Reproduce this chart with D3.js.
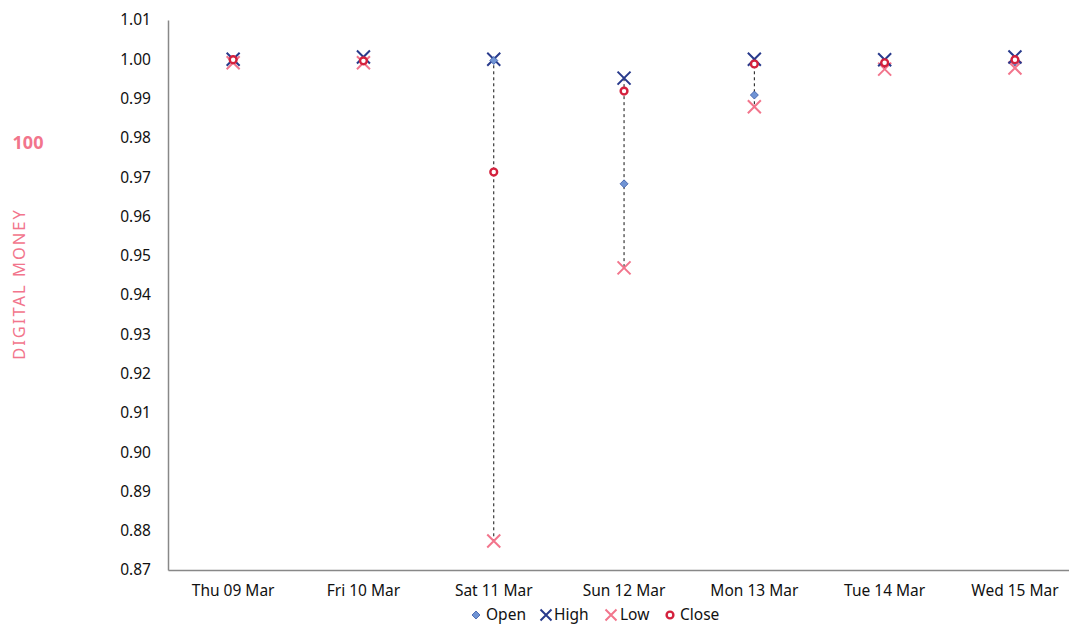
<!DOCTYPE html>
<html><head><meta charset="utf-8">
<script src="https://cdn.jsdelivr.net/npm/d3@7/dist/d3.min.js"></script>
<style>body{margin:0;background:#fff}svg{display:block}text{font-family:"Noto Sans",Lato,sans-serif}</style>
</head><body><svg id="c" width="1069" height="624"></svg>
<script>
const categories = ["Thu 09 Mar","Fri 10 Mar","Sat 11 Mar","Sun 12 Mar","Mon 13 Mar","Tue 14 Mar","Wed 15 Mar"];
const openVals  = [0.9999, 0.9997, 0.9997, 0.9683, 0.9909, 0.9990, 0.9994];
const highVals  = [1.0000, 1.0006, 1.0000, 0.9952, 1.0000, 0.9999, 1.0006];
const lowVals   = [0.9991, 0.9991, 0.8774, 0.9469, 0.9879, 0.9975, 0.9978];
const closeVals = [0.9999, 0.9996, 0.9713, 0.9919, 0.9988, 0.9991, 0.9999];
const yTicks = [1.01,1.00,0.99,0.98,0.97,0.96,0.95,0.94,0.93,0.92,0.91,0.90,0.89,0.88,0.87];

const svg = d3.select("#c");
const L = 168, T = 20, B = 570, step = 130.3;
const x = d3.scaleBand().domain(categories).range([L, L + step*categories.length]);
const y = d3.scaleLinear().domain([0.87, 1.01]).range([B, T]);
const cx = d => x(d) + x.bandwidth()/2;

const navy = "#283a8c", pink = "#f2758c", red = "#d4213d", lblue = "#7094d4";

// axes
const ya = svg.append("g").attr("transform",`translate(${L},0)`)
  .call(d3.axisLeft(y).tickValues(yTicks).tickFormat(d3.format(".2f")).tickSize(0).tickPadding(17));
ya.select(".domain").attr("stroke","#888").attr("stroke-width",1.5);
ya.selectAll("text").attr("font-size",15.5).attr("fill","#111");
const xa = svg.append("g").attr("transform",`translate(0,${B})`)
  .call(d3.axisBottom(x).tickSize(0).tickPadding(15));
xa.select(".domain").attr("stroke","#888").attr("stroke-width",1.5);
xa.selectAll("text").attr("font-size",15.5).attr("fill","#111");

// high-low lines
svg.append("g").selectAll("line").data(categories).join("line")
  .attr("x1",cx).attr("x2",cx)
  .attr("y1",(d,i)=>y(highVals[i])).attr("y2",(d,i)=>y(lowVals[i]))
  .attr("stroke","#111").attr("stroke-width",1).attr("stroke-dasharray","3,3");

function xMark(g, px, py, s, col){
  g.append("path").attr("d",`M${px-s},${py-s}L${px+s},${py+s}M${px-s},${py+s}L${px+s},${py-s}`)
    .attr("stroke",col).attr("stroke-width",2).attr("fill","none");
}
const gm = svg.append("g");
categories.forEach((c,i)=>{ xMark(gm, cx(c), y(lowVals[i]), 6.5, pink); });
categories.forEach((c,i)=>{ xMark(gm, cx(c), y(highVals[i]), 6.5, navy); });
categories.forEach((c,i)=>{
  const px=cx(c), py=y(openVals[i]);
  gm.append("path").attr("d",`M${px},${py-4}L${px+4},${py}L${px},${py+4}L${px-4},${py}Z`)
    .attr("fill",lblue).attr("stroke","#3a5aa8").attr("stroke-width",0.8);
});
categories.forEach((c,i)=>{
  gm.append("circle").attr("cx",cx(c)).attr("cy",y(closeVals[i])).attr("r",3.4)
    .attr("fill","#fff").attr("stroke",red).attr("stroke-width",2.4);
});

// legend
const lg = svg.append("g").attr("font-size",15.5).attr("fill","#111");
const ly = 615;
lg.append("path").attr("d",`M476,${ly-4}L480,${ly}L476,${ly+4}L472,${ly}Z`).attr("fill",lblue).attr("stroke","#3a5aa8").attr("stroke-width",0.8);
lg.append("text").attr("x",486).attr("y",ly+4.5).text("Open");
xMark(lg, 546, ly, 5.5, navy);
lg.append("text").attr("x",554).attr("y",ly+4.5).text("High");
xMark(lg, 611, ly, 5.5, pink);
lg.append("text").attr("x",620).attr("y",ly+4.5).text("Low");
lg.append("circle").attr("cx",670).attr("cy",ly).attr("r",3.4).attr("fill","#fff").attr("stroke",red).attr("stroke-width",2.4);
lg.append("text").attr("x",680).attr("y",ly+4.5).text("Close");

// left labels
svg.append("text").attr("x",28).attr("y",149).attr("text-anchor","middle")
  .attr("font-size",18).attr("font-weight","bold").attr("fill",pink).text("100");
svg.append("text").attr("transform","translate(25,284) rotate(-90)").attr("text-anchor","middle")
  .attr("font-size",16.5).attr("fill",pink).attr("letter-spacing",2).text("DIGITAL MONEY");
</script></body></html>
